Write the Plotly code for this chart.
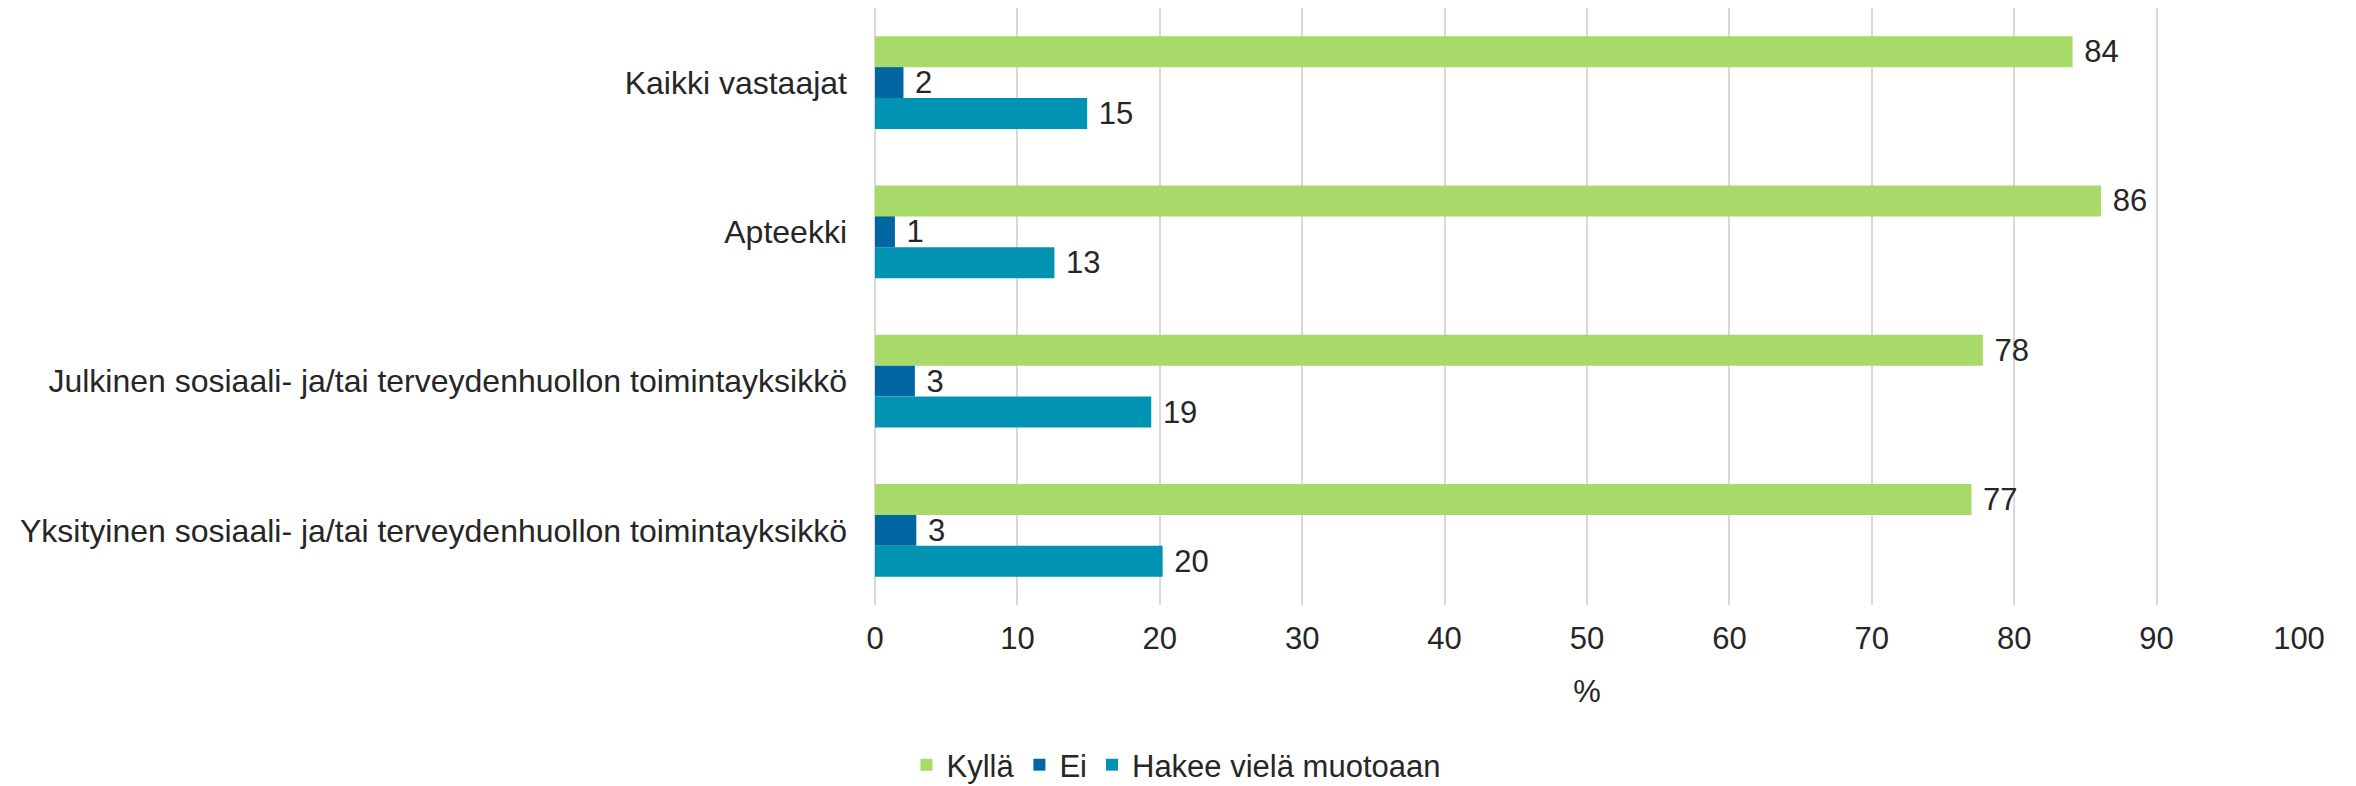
import plotly.graph_objects as go

# categories (top to bottom)
categories = [
    "Kaikki vastaajat",
    "Apteekki",
    "Julkinen sosiaali- ja/tai terveydenhuollon toimintayksikkö",
    "Yksityinen sosiaali- ja/tai terveydenhuollon toimintayksikkö",
]

# shares in percent
kylla = [84.1, 86.1, 77.8, 77.0]
ei = [2.0, 1.4, 2.8, 2.9]
hakee = [14.9, 12.6, 19.4, 20.2]

series_names = ["Kyllä", "Ei", "Hakee vielä muotoaan"]
colors = ["#A8DA6A", "#0066A1", "#0093B2"]

x_ticks = list(range(0, 101, 10))

FONT = "Liberation Sans, Arial, sans-serif"
TEXT_COLOR = "#262626"

fig = go.Figure()
for name, vals, col in zip(series_names, [kylla, ei, hakee], colors):
    fig.add_trace(go.Bar(
        name=name,
        y=categories,
        x=vals,
        orientation="h",
        marker=dict(color=col, line=dict(width=0)),
        texttemplate="\u00a0%{x:.0f}",
        textposition="outside",
        constraintext="none",
        textfont=dict(family=FONT, size=31, color=TEXT_COLOR),
        cliponaxis=False,
    ))

# page body adds an 8px offset, so margins are shifted to compensate
fig.update_layout(
    width=2356,
    height=786,
    margin=dict(l=867, r=65, t=0, b=189, autoexpand=False),
    paper_bgcolor="white",
    plot_bgcolor="white",
    barmode="group",
    bargap=0.377,
    bargroupgap=0,
    font=dict(family=FONT, size=31, color=TEXT_COLOR),
    legend=dict(
        orientation="h",
        x=0.2117,
        xanchor="center",
        y=-0.268,
        yanchor="middle",
        font=dict(family=FONT, size=31, color=TEXT_COLOR),
        traceorder="normal",
    ),
    showlegend=True,
)

fig.update_xaxes(
    range=[0, 100],
    tickvals=x_ticks,
    automargin=False,
    showgrid=True,
    gridcolor="#D9D9D9",
    gridwidth=2,
    zeroline=True,
    zerolinecolor="#D9D9D9",
    zerolinewidth=2,
    showline=False,
    ticks="",
    ticklabelstandoff=12,
    tickfont=dict(family=FONT, size=31, color=TEXT_COLOR),
    title=dict(text="%", standoff=25, font=dict(family=FONT, size=31, color=TEXT_COLOR)),
)

fig.update_yaxes(
    autorange="reversed",
    automargin=False,
    showgrid=False,
    showline=False,
    ticks="",
    ticklabelstandoff=27,
    tickfont=dict(family=FONT, size=32, color=TEXT_COLOR),
)

fig.write_html("out.html")
